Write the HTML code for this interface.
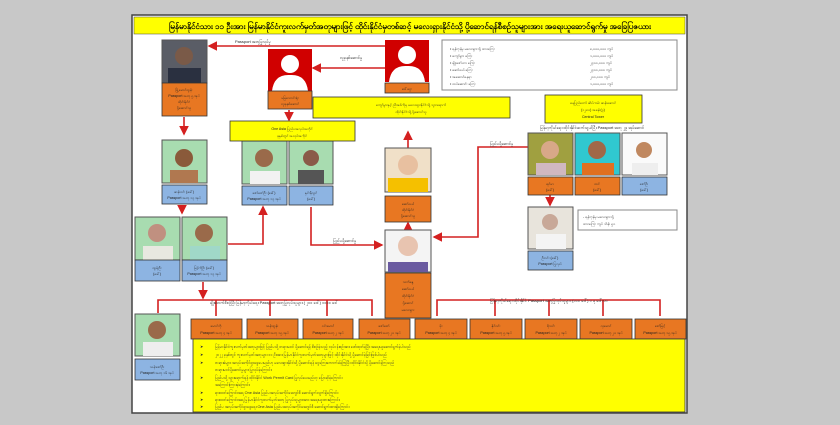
<!DOCTYPE html>
<html><head><meta charset="utf-8"><style>
body{margin:0;background:#c8c8c8;}
svg text{font-family:"Liberation Sans",sans-serif;}
</style></head><body>
<svg width="840" height="420" viewBox="0 0 840 420" xmlns="http://www.w3.org/2000/svg">
<defs>
<marker id="a" markerWidth="6" markerHeight="6" refX="5" refY="3" orient="auto"><path d="M0,0L6,3L0,6z" fill="#d42020"/></marker>
<g id="sil"><rect width="44" height="42" fill="#d00000"/><circle cx="22" cy="15" r="9" fill="#fff"/><path d="M4,42 Q6,25 22,26 Q38,25 40,42z" fill="#fff"/></g>
</defs>
<rect x="0" y="0" width="840" height="420" fill="#c8c8c8"/>
<rect x="132" y="15" width="555" height="398" fill="#fff" stroke="#444" stroke-width="1.5"/>
<rect x="134" y="17" width="551" height="17" fill="#ffff00" stroke="#444" stroke-width="0.5"/>
<text x="410" y="29" font-size="8" text-anchor="middle" font-weight="bold">မြန်မာနိုင်ငံသား ၁၁ ဦးအား မြန်မာနိုင်ငံကူးလက်မှတ်အတုများဖြင့် ထိုင်းနိုင်ငံမှတစ်ဆင့် မလေးရှားနိုင်ငံသို့ ပို့ဆောင်ရန်စီစဉ်သူများအား အရေးယူဆောင်ရွက်မှု အခြေပြဇယား</text>

<g stroke="#d42020" stroke-width="1.6" fill="none">
<path d="M385,46H209" marker-end="url(#a)"/>
<path d="M385,68H313" marker-end="url(#a)"/>
<path d="M184,117V134" marker-end="url(#a)"/>
<path d="M289,110V120" marker-end="url(#a)"/>
<path d="M182,205V213" marker-end="url(#a)"/>
<path d="M228,244H263V207" marker-end="url(#a)"/>
<path d="M311,207V245H382" marker-end="url(#a)"/>
<path d="M528,147H478V237H434" marker-end="url(#a)"/>
<path d="M408,148V132" marker-end="url(#a)"/>
<path d="M408,230V223" marker-end="url(#a)"/>
<path d="M550,195V205" marker-end="url(#a)"/>
<path d="M203,282V298" marker-end="url(#a)"/>
<path d="M158,313V300H372V316M216,300V316M270,300V316M327,300V316"/>
<path d="M437,316V300H660V316M495,300V316M549,300V316M603,300V316"/>
</g>
<g font-size="4" fill="#222">
<text x="235" y="43">Passport အတုပြုလုပ်မှု</text>
<text x="340" y="59">လူခုနစ်ဆောင်မှု</text>
<text x="333" y="242">ပြည်ပပို့ဆောင်မှု</text>
<text x="490" y="145">ပြည်ပပို့ဆောင်မှု</text>
<text x="210" y="304">ချိုးဖောက်စီစဉ်ပြီး မြန်မာ့ကိုယ်ရေး Passport အတုပြုလုပ်သူများ ( ၂၀၀ ဒေါ်) ၁၀၀၀ ဒေါ်</text>
<text x="490" y="302">မြန်မာ့ကိုယ်ရေး ထိုင်းနိုင်ငံ Passport အတုပြုလုပ်သူများ (၁၀၀ ဒေါ်) ၁ ခု ဒေါ်လာ</text>
<text x="540" y="129">မြန်မာ့ကိုယ်ရေး ထိုင်းနိုင်ငံဆက်သွယ်ပြီး Passport အတု ၂၉ အုပ်ဆောင်</text>
</g>

<!-- photos -->
<rect x="162" y="40" width="45" height="43" fill="#5a5d66" stroke="#555"/><circle cx="184" cy="56" r="9" fill="#7a5a48"/><rect x="168" y="68" width="33" height="15" fill="#2a3040"/>
<use href="#sil" x="268" y="49"/>
<use href="#sil" x="385" y="40"/>
<rect x="162" y="140" width="45" height="43" fill="#a8dcb0" stroke="#555"/><circle cx="184" cy="158" r="9" fill="#8a5a3a"/><rect x="170" y="170" width="28" height="13" fill="#b07850"/>
<rect x="242" y="141" width="45" height="43" fill="#a8dcb0" stroke="#555"/><circle cx="264" cy="158" r="9" fill="#9a6a4a"/><rect x="250" y="171" width="30" height="13" fill="#f2f2f2"/>
<rect x="289" y="141" width="44" height="43" fill="#a8dcb0" stroke="#555"/><circle cx="311" cy="158" r="8" fill="#8a5a48"/><rect x="298" y="170" width="26" height="14" fill="#555"/>
<rect x="135" y="217" width="45" height="43" fill="#a8dcb0" stroke="#555"/><circle cx="157" cy="233" r="9" fill="#c09080"/><rect x="143" y="246" width="30" height="14" fill="#e8e8e0"/>
<rect x="182" y="217" width="45" height="43" fill="#a8dcb0" stroke="#555"/><circle cx="204" cy="233" r="9" fill="#9a6a4a"/><rect x="190" y="246" width="30" height="14" fill="#a0d8c8"/>
<rect x="135" y="314" width="45" height="42" fill="#a8dcb0" stroke="#555"/><circle cx="157" cy="330" r="9" fill="#9a6a4a"/><rect x="143" y="342" width="30" height="14" fill="#eee"/>
<rect x="385" y="148" width="46" height="44" fill="#f0e0c8" stroke="#555"/><circle cx="408" cy="165" r="10" fill="#e8c0a0"/><rect x="388" y="178" width="40" height="14" fill="#f5c000"/>
<rect x="385" y="230" width="46" height="42" fill="#f4f4f4" stroke="#555"/><circle cx="408" cy="246" r="10" fill="#e8c4b0"/><rect x="388" y="262" width="40" height="10" fill="#6a5aa0"/>
<rect x="528" y="133" width="45" height="42" fill="#a0a040" stroke="#555"/><circle cx="550" cy="150" r="9" fill="#d8a888"/><rect x="536" y="163" width="30" height="12" fill="#d0b8c0"/>
<rect x="575" y="133" width="45" height="42" fill="#30c8d0" stroke="#555"/><circle cx="597" cy="150" r="9" fill="#a06848"/><rect x="582" y="163" width="32" height="12" fill="#e07020"/>
<rect x="622" y="133" width="45" height="42" fill="#fafafa" stroke="#555"/><circle cx="644" cy="150" r="8" fill="#c08860"/><rect x="632" y="163" width="26" height="12" fill="#eee"/>
<rect x="528" y="207" width="45" height="42" fill="#e8e4dc" stroke="#555"/><circle cx="550" cy="222" r="8" fill="#c8a898"/><rect x="536" y="234" width="30" height="15" fill="#f4f4f4"/>

<!-- labels -->
<g stroke="#333" stroke-width="0.8">
<rect x="162" y="83" width="45" height="33" fill="#e87722"/>
<rect x="268" y="91" width="44" height="18" fill="#e87722"/>
<rect x="385" y="83" width="44" height="10" fill="#e87722"/>
<rect x="162" y="185" width="45" height="19" fill="#8db4e2"/>
<rect x="242" y="186" width="45" height="19" fill="#8db4e2"/>
<rect x="289" y="186" width="44" height="19" fill="#8db4e2"/>
<rect x="135" y="260" width="45" height="21" fill="#8db4e2"/>
<rect x="182" y="260" width="45" height="21" fill="#8db4e2"/>
<rect x="135" y="359" width="45" height="21" fill="#8db4e2"/>
<rect x="385" y="196" width="46" height="26" fill="#e87722"/>
<rect x="385" y="273" width="46" height="45" fill="#e87722"/>
<rect x="528" y="177" width="45" height="18" fill="#e87722"/>
<rect x="575" y="177" width="45" height="18" fill="#e87722"/>
<rect x="622" y="177" width="45" height="18" fill="#8db4e2"/>
<rect x="528" y="251" width="45" height="19" fill="#8db4e2"/>
<rect x="191" y="319" width="51" height="20" fill="#e87722"/>
<rect x="247" y="319" width="51" height="20" fill="#e87722"/>
<rect x="303" y="319" width="50" height="20" fill="#e87722"/>
<rect x="359" y="319" width="51" height="20" fill="#e87722"/>
<rect x="415" y="319" width="52" height="20" fill="#e87722"/>
<rect x="470" y="319" width="52" height="20" fill="#e87722"/>
<rect x="525" y="319" width="52" height="20" fill="#e87722"/>
<rect x="580" y="319" width="52" height="20" fill="#e87722"/>
<rect x="635" y="319" width="51" height="20" fill="#e87722"/>
<rect x="230" y="121" width="125" height="20" fill="#ffff00"/>
<rect x="313" y="97" width="197" height="21" fill="#ffff00"/>
<rect x="545" y="95" width="97" height="28" fill="#ffff00"/>
<rect x="193" y="339" width="492" height="73" fill="#ffff00"/>
</g>
<rect x="442" y="40" width="235" height="50" fill="#fff" stroke="#888"/>
<rect x="578" y="210" width="99" height="20" fill="#fff" stroke="#888"/>

<g font-size="3.6" fill="#222" text-anchor="middle">
<text x="184" y="91">မြို့မောင်ထွန်း</text><text x="184" y="97">Passport အတု ၅ အုပ်</text><text x="184" y="103">ထိုင်းနိုင်ငံ</text><text x="184" y="109">ပို့ဆောင်သူ</text>
<text x="290" y="99">မမြသောင်းရုံး</text><text x="290" y="105">လူခုနစ်ဆောင်</text>
<text x="407" y="90">ဒေါ်ဌေး</text>
<text x="184" y="193">ဆန်းဝင်း (ခေါ်)</text><text x="184" y="199">Passport အတု ၁၃ အုပ်</text>
<text x="264" y="194">ဇော်ဇော်ဦး (ခေါ်)</text><text x="264" y="200">Passport အတု ၁၃ အုပ်</text>
<text x="311" y="194">နှင်းနီလွင်</text><text x="311" y="200">(ခေါ်)</text>
<text x="157" y="269">ထွန်းဦး</text><text x="157" y="275">(ခေါ်)</text>
<text x="204" y="269">မြင့်ကိုဦး (ခေါ်)</text><text x="204" y="275">Passport အတု ၁၃ အုပ်</text>
<text x="157" y="368">သန်းဇော်ဦး</text><text x="157" y="374">Passport အတု ၁၆ အုပ်</text>
<text x="408" y="205">ဆော်ဖယ်</text><text x="408" y="211">ထိုင်းနိုင်ငံ</text><text x="408" y="217">ပို့ဆောင်သူ</text>
<text x="408" y="283">သက်နွေ</text><text x="408" y="290">ဆော်ဖယ်</text><text x="408" y="297">ထိုင်းနိုင်ငံ</text><text x="408" y="304">ပို့ဆောင်</text><text x="408" y="311">မလေးရှား</text>
<text x="550" y="185">ရင်မာ</text><text x="550" y="191">(ခေါ်)</text>
<text x="597" y="185">ထင်</text><text x="597" y="191">(ခေါ်)</text>
<text x="644" y="185">ဇော်ဦး</text><text x="644" y="191">(ခေါ်)</text>
<text x="550" y="259">ဦးဝင်း (ခေါ်)</text><text x="550" y="265">Passport ပြုလုပ်</text>
<text x="216" y="327">မောင်ကို</text><text x="216" y="334">Passport အတု ၄ အုပ်</text>
<text x="272" y="327">သန်းထွန်း</text><text x="272" y="334">Passport အတု ၁၅ အုပ်</text>
<text x="328" y="327">ဝင်းမောင်</text><text x="328" y="334">Passport အတု ၂ အုပ်</text>
<text x="384" y="327">ဇော်ဇော်</text><text x="384" y="334">Passport အတု ၂၀ အုပ်</text>
<text x="441" y="327">မိုး</text><text x="441" y="334">Passport အတု ၄ အုပ်</text>
<text x="496" y="327">နိုင်ဝင်း</text><text x="496" y="334">Passport အတု ၅ အုပ်</text>
<text x="551" y="327">စိုးဝင်း</text><text x="551" y="334">Passport အတု ၂ အုပ်</text>
<text x="606" y="327">လှမောင်</text><text x="606" y="334">Passport အတု ၂၀ အုပ်</text>
<text x="660" y="327">ဇော်မြင့်</text><text x="660" y="334">Passport အတု ၁၅ အုပ်</text>
<text x="292" y="130">One Asia ပြည်ပအလုပ်အကိုင်</text><text x="292" y="137">ခုနှစ်တွင် အလုပ်အကိုင်</text>
<text x="411" y="106">ကျော်မွားနှင့် ညီအစ်ကိုမှ မလေးရှားနိုင်ငံသို့ သွားရောက်</text><text x="411" y="113">ထိုင်းနိုင်ငံသို့ ပို့ဆောင်သူ</text>
<text x="593" y="104">နေပြည်တော် ဆိပ်ကမ်း ဆန်းဆောင်</text><text x="593" y="111">(၁၂၈၀) အခန်း(၃)</text><text x="593" y="118">Central Tower</text>
</g>
<g font-size="3.6" fill="#222">
<text x="450" y="50">• ရန်ကုန်မှ မလေးရှားသို့ ထားကြေး</text><text x="590" y="50">၈,၀၀၀,၀၀၀ ကျပ်</text>
<text x="450" y="57">• ကျော်မွား ကြေး</text><text x="590" y="57">၁,၀၀၀,၀၀၀ ကျပ်</text>
<text x="450" y="64">• မျိုးဇော်ဟာ ကြေး</text><text x="590" y="64">၂၄၀၀,၀၀၀ ကျပ်</text>
<text x="450" y="71">• ဆော်ဖယ် ကြေး</text><text x="590" y="71">၂၄၀၀,၀၀၀ ကျပ်</text>
<text x="450" y="78">• အဆောင်နေရာ</text><text x="590" y="78">၂၀၀,၀၀၀ ကျပ်</text>
<text x="450" y="85">• ထပ်ဆောင်း ကြေး</text><text x="590" y="85">၁,၀၀၀,၀၀၀ ကျပ်</text>
<text x="583" y="218">- ရန်ကုန်မှ မလေးရှားသို့</text><text x="583" y="225">ထားကြေး ကျပ် သိန်း ၅၀</text>
</g>
<g font-size="3.8" fill="#333">
<text x="200" y="348">➤</text><text x="215" y="348">မြန်မာနိုင်ငံကူးလက်မှတ်အတုများဖြင့် ပြည်ပသို့ တရားမဝင် ပို့ဆောင်ရန် စီစဉ်ခဲ့သည့် လုပ်ငန်းစဉ်အား ဖော်ထုတ်ခဲ့ပြီး အရေးယူဆောင်ရွက်ခဲ့ပါသည်</text>
<text x="200" y="356">➤</text><text x="215" y="356">၂၀၂၂ ခုနှစ်တွင် ကူးလက်မှတ်အတုများ ၁၁ ဦးအား မြန်မာနိုင်ငံကူးလက်မှတ်အတုများဖြင့် ထိုင်းနိုင်ငံသို့ ပို့ဆောင်ခဲ့ခြင်းဖြစ်ပါသည်</text>
<text x="200" y="364">➤</text><text x="215" y="364">တရားခံများ အလုပ်အကိုင်ရှာဖွေပေးမည်ဟု မလေးရှားနိုင်ငံသို့ ပို့ဆောင်ရန် ငွေကြေးကောက်ခံခဲ့ကြပြီး ထိုင်းနိုင်ငံသို့ ပို့ဆောင်ခဲ့ကြသည်</text>
<text x="215" y="371">တရားမဝင်ပို့ဆောင်မှုများ ပြုလုပ်ခဲ့ကြောင်း</text>
<text x="200" y="379">➤</text><text x="215" y="379">ပြည်ပသို့ သွားရောက်ရန် ထိုင်းနိုင်ငံ Work Permit Card ပြုလုပ်ပေးမည်ဟု ပြောဆိုခဲ့ကြောင်း</text>
<text x="215" y="386">အကြောင်းကြားခဲ့ကြောင်း</text>
<text x="200" y="394">➤</text><text x="215" y="394">ရာဇဝတ်ကြောင်းအရ One Asia ပြည်ပအလုပ်အကိုင်အေဂျင်စီ ဆောင်ရွက်လျက်ရှိကြောင်း</text>
<text x="200" y="401">➤</text><text x="215" y="401">ရာဇဝတ်ကြောင်းအရ မြန်မာနိုင်ငံကူးလက်မှတ်အတု ပြုလုပ်သူများအား အရေးယူထားကြောင်း</text>
<text x="200" y="408">➤</text><text x="215" y="408">ပြည်ပ အလုပ်အကိုင်ရှာဖွေရေး One Asia ပြည်ပအလုပ်အကိုင်အေဂျင်စီ ဆောင်ရွက်ထားရှိကြောင်း</text>
</g>
</svg>
</body></html>
